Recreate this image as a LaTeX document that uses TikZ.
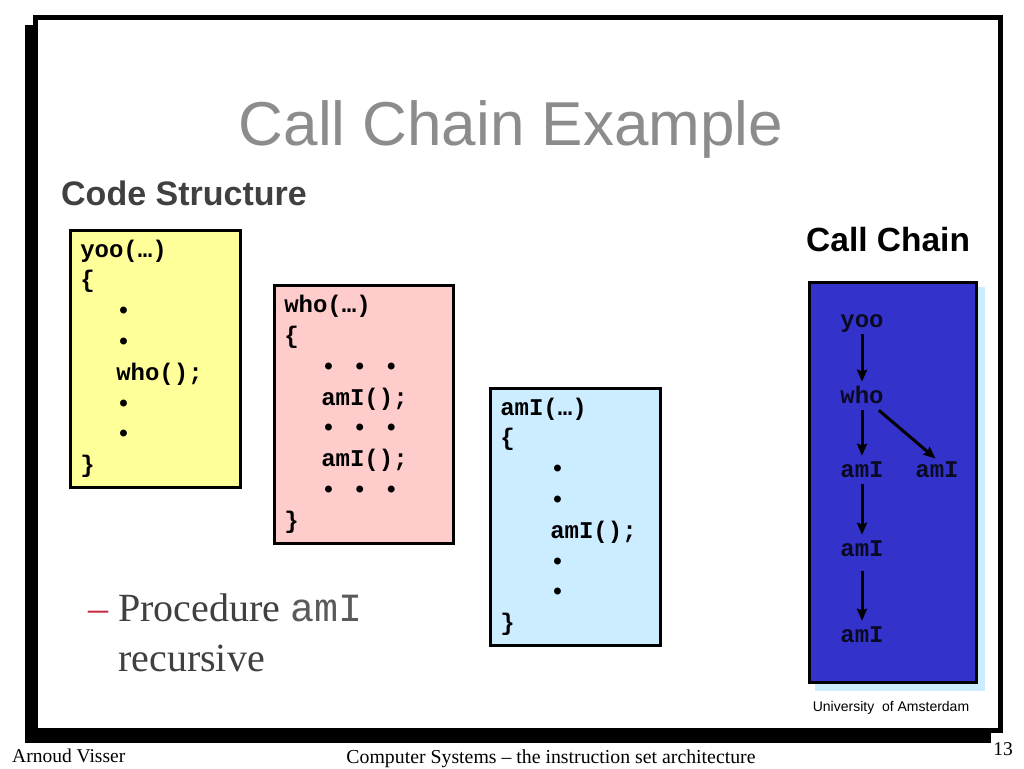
\documentclass[tikz,border=0pt]{standalone}
\usepackage{fontspec}
\setmainfont{Liberation Serif}
\setsansfont{Liberation Sans}
\setmonofont{Liberation Mono}
\usetikzlibrary{arrows.meta}
\definecolor{yoofill}{RGB}{255,255,153}
\definecolor{whofill}{RGB}{255,204,204}
\definecolor{amifill}{RGB}{204,236,255}
\definecolor{ccblue}{RGB}{51,51,204}
\definecolor{ccshadow}{RGB}{204,236,255}
\definecolor{cctext}{RGB}{10,10,35}
\definecolor{titlegray}{RGB}{140,140,140}
\definecolor{headgray}{RGB}{64,64,64}
\definecolor{bodygray}{RGB}{64,64,64}
\definecolor{amigray}{RGB}{90,90,90}
\definecolor{dashred}{RGB}{200,40,60}
\begin{document}
\begin{tikzpicture}[x=1pt,y=-1pt,
  codebox/.style={draw=black, line width=2.5pt, anchor=north west, inner ysep=0pt, inner xsep=10pt,
    align=left, font=\ttfamily\bfseries\fontsize{24}{30.8}\selectfont},
  ccnode/.style={font=\ttfamily\bfseries\fontsize{24}{28}\selectfont, text=cctext, inner sep=2pt,
    text height=15pt, text depth=5pt, anchor=base},
  ccarrow/.style={line width=3pt, -{Stealth[length=12pt,width=10pt,inset=1.5pt]}, shorten >=4pt},
  plain/.style={inner sep=0pt}]
\useasboundingbox (0,0) rectangle (1024,768);
\fill[white] (0,0) rectangle (1024,768);
% slide frame with shadow
\fill[black] (25,25) rectangle (991,743);
\draw[line width=5pt, fill=white] (35.5,17.5) rectangle (1000.5,730.5);
% title and headings
\node[plain, font=\sffamily\fontsize{62}{70}\selectfont, text=titlegray, anchor=base] (title) at (511,145) {Call Chain Example};
\node[plain, font=\sffamily\bfseries\fontsize{34}{40}\selectfont, text=headgray, anchor=base west] (codestruct) at (61,205) {Code Structure};
\node[plain, font=\sffamily\bfseries\fontsize{33.5}{40}\selectfont, text=black, anchor=base west] (chainhead) at (806,251) {Call Chain};
% code boxes
\node[codebox, fill=yoofill, minimum width=170, minimum height=257, text width=150] (yoo) at (69,229)
  {\strut yoo(…)\\{\char`\{}\\\hspace*{36pt}•\\\hspace*{36pt}•\\\hspace*{36pt}who();\\\hspace*{36pt}•\\\hspace*{36pt}•\\{\char`\}}\strut};
\node[codebox, fill=whofill, minimum width=179, minimum height=258, text width=159] (who) at (273,284)
  {\strut who(…)\\{\char`\{}\\\hspace*{37pt}•\hspace{17.1pt}•\hspace{17.1pt}•\\\hspace*{37pt}amI();\\\hspace*{37pt}•\hspace{17.1pt}•\hspace{17.1pt}•\\\hspace*{37pt}amI();\\\hspace*{37pt}•\hspace{17.1pt}•\hspace{17.1pt}•\\{\char`\}}\strut};
\node[codebox, fill=amifill, minimum width=170, minimum height=257, text width=150] (ami) at (489,387)
  {\strut amI(…)\\{\char`\{}\\\hspace*{50pt}•\\\hspace*{50pt}•\\\hspace*{50pt}amI();\\\hspace*{50pt}•\\\hspace*{50pt}•\\{\char`\}}\strut};
% bullet text
\node[plain, anchor=base west, text=dashred, font=\rmfamily\fontsize{40}{50}\selectfont] (dash) at (88,621) {–};
\node[plain, anchor=base west, text=bodygray, font=\rmfamily\fontsize{40}{50}\selectfont] (proc) at (118,621) {Procedure {\ttfamily\mdseries\color{amigray}amI}};
\node[plain, anchor=base west, text=bodygray, font=\rmfamily\fontsize{40}{50}\selectfont] (rec) at (118,671) {recursive};
% call chain panel
\fill[ccshadow] (815,287) rectangle (985,691);
\node[draw=black, line width=3pt, fill=ccblue, minimum width=167, minimum height=400, anchor=north west, inner sep=0pt] (chainbox) at (807.5,280.5) {};
\node[ccnode] (cyoo) at (862,327) {yoo};
\node[ccnode] (cwho) at (862,403) {who};
\node[ccnode] (cami1) at (862,477) {amI};
\node[ccnode] (cami2) at (937,477) {amI};
\node[ccnode] (cami3) at (862,556) {amI};
\node[ccnode] (cami4) at (862,642) {amI};
\draw[ccarrow] (cyoo) -- (cwho);
\draw[ccarrow] (cwho) -- (cami1);
\draw[ccarrow, shorten >=2pt] ([xshift=-7pt]cwho.south east) -- (cami2.north);
\draw[ccarrow] (cami1) -- (cami3);
\draw[ccarrow, shorten <=8pt] (cami3) -- (cami4);
\node[plain, anchor=base, font=\sffamily\fontsize{14}{16}\selectfont] (uva) at (891,711) {University\ \ of Amsterdam};
% footer
\node[plain, anchor=base west, font=\rmfamily\fontsize{19.5}{22}\selectfont] (author) at (12,762) {Arnoud Visser};
\node[plain, anchor=base, font=\rmfamily\fontsize{19.8}{22}\selectfont] (course) at (551,763) {Computer Systems – the instruction set architecture};
\node[plain, anchor=base east, font=\rmfamily\fontsize{19.5}{22}\selectfont] (pagenum) at (1013,755) {13};
\end{tikzpicture}
\end{document}
